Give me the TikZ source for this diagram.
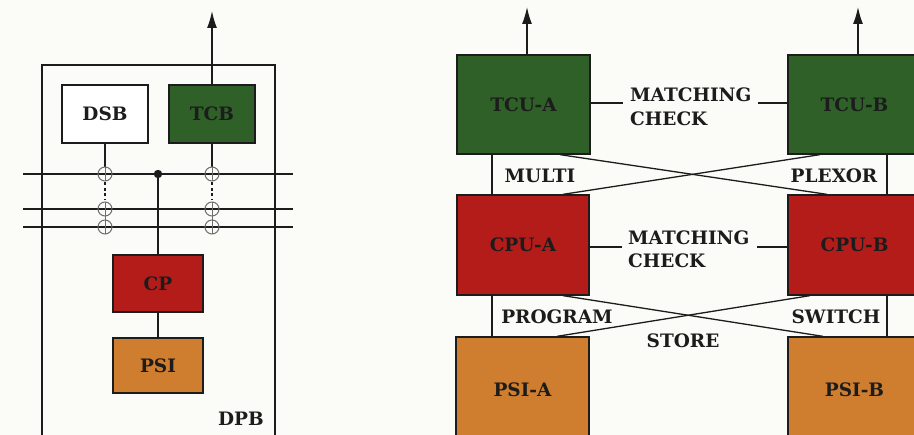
\documentclass[tikz,border=0pt]{standalone}
\usepackage{fontspec}
\setmainfont{DejaVu Serif}
\usetikzlibrary{arrows.meta,calc}
\definecolor{tgreen}{RGB}{46,96,40}
\definecolor{cred}{RGB}{180,28,26}
\definecolor{porange}{RGB}{206,126,46}
\definecolor{ink}{RGB}{28,28,28}
\definecolor{ringc}{RGB}{110,110,110}
\definecolor{bg}{RGB}{251,251,247}
\begin{document}
\begin{tikzpicture}[x=1pt,y=-1pt,
  lbl/.style={font=\fontsize{18.5}{20}\selectfont\bfseries, text=ink, inner sep=0pt},
  box/.style={draw=ink, line width=1.3pt, inner sep=0pt, lbl},
  wire/.style={draw=ink, line width=1.3pt},
  frame/.style={draw=ink, line width=1.1pt},
  bus/.style={draw=ink, line width=1.4pt},
  ring/.style={draw=ringc, line width=1pt},
  arr/.style={draw=ink, line width=1.4pt, -{Latex[length=17pt,width=10pt]}}]
\useasboundingbox (0,0) rectangle (914,435);
\fill[bg] (0,0) rectangle (914,435);
\clip (0,0) rectangle (914,435);

% ---------- left panel ----------
\draw[frame] (42,440) -- (42,65) -- (275,65) -- (275,440);
\node[lbl, anchor=base] (dpb) at (241,426) {DPB};

\node[box, fill=white, minimum width=86pt, minimum height=58pt] (dsb) at (105,114) {DSB};
\node[box, fill=tgreen, minimum width=86pt, minimum height=58pt] (tcb) at (212,114) {TCB};
\node[box, fill=cred, minimum width=90pt, minimum height=57pt] (cp) at (158,283.5) {CP};
\node[box, fill=porange, minimum width=90pt, minimum height=55pt] (psi) at (158,365.5) {PSI};

\coordinate (tcbtip) at (212,11);
\draw[arr] (tcb.north) -- (tcbtip);

% buses
\coordinate (b1w) at (23,174);  \coordinate (b1e) at (293,174);
\coordinate (b2w) at (23,209);  \coordinate (b2e) at (293,209);
\coordinate (b3w) at (23,227);  \coordinate (b3e) at (293,227);
\draw[bus] (b1w) -- (b1e);
\draw[bus] (b2w) -- (b2e);
\draw[bus] (b3w) -- (b3e);

% taps of DSB and TCB
\foreach \n in {dsb,tcb}{
  \draw[wire] (\n.south) -- ($(\n.south |- b1w)+(0,-7)$);
  \draw[ring] ($(\n.south |- b1w)+(0,-7)$) -- ($(\n.south |- b1w)+(0,7)$);
  \draw[draw=ink, line width=1.6pt, dash pattern=on 3pt off 2.5pt] ($(\n.south |- b1w)+(0,8.5)$) -- ($(\n.south |- b2w)+(0,-8.5)$);
  \draw[ring] ($(\n.south |- b2w)+(0,-7)$) -- ($(\n.south |- b3w)+(0,7)$);
  \draw[ring] (\n.south |- b1w) circle (7pt);
  \draw[ring] (\n.south |- b2w) circle (7pt);
  \draw[ring] (\n.south |- b3w) circle (7pt);
}
\coordinate (dot) at (158,174);
\fill[ink] (dot) circle (4.2pt);
\draw[wire] (dot) -- (cp.north);
\draw[wire] (cp.south) -- (psi.north);

% ---------- right panel ----------
\coordinate (vl) at (492,0);
\coordinate (vr) at (887,0);
\coordinate (xa) at (560,0); \coordinate (xb) at (827,0);
\coordinate (xc) at (820,0); \coordinate (xd) at (563,0);
\coordinate (ya) at (563,0); \coordinate (yb) at (823,0);
\coordinate (yc) at (810,0); \coordinate (yd) at (557,0);

\node[box, fill=tgreen, minimum width=133pt, minimum height=99pt] (tcua) at (523.5,104.5) {TCU-A};
\node[box, fill=tgreen, minimum width=133pt, minimum height=99pt] (tcub) at (854.5,104.5) {TCU-B};
\node[box, fill=cred, minimum width=132pt, minimum height=100pt] (cpua) at (523,245) {CPU-A};
\node[box, fill=cred, minimum width=133pt, minimum height=100pt] (cpub) at (854.5,245) {CPU-B};
\node[box, fill=porange, minimum width=133pt, minimum height=106pt] (psia) at (522.5,390) {PSI-A};
\node[box, fill=porange, minimum width=133pt, minimum height=106pt] (psib) at (854.5,390) {PSI-B};

\coordinate (tatip) at (527,7);
\coordinate (tbtip) at (858,7);
\draw[arr] (tatip |- tcua.north) -- (tatip);
\draw[arr] (tbtip |- tcub.north) -- (tbtip);

% multiplexor
\draw[wire] (vl |- tcua.south) -- (vl |- cpua.north);
\draw[wire] (vr |- tcub.south) -- (vr |- cpub.north);
\draw[wire] (xa |- tcua.south) -- (xb |- cpub.north);
\draw[wire] (xc |- tcub.south) -- (xd |- cpua.north);
\node[lbl, anchor=base] (multi) at (540,183) {MULTI};
\node[lbl, anchor=base] (plexor) at (834,183) {PLEXOR};

% program store switch
\draw[wire] (vl |- cpua.south) -- (vl |- psia.north);
\draw[wire] (vr |- cpub.south) -- (vr |- psib.north);
\draw[wire] (ya |- cpua.south) -- (yb |- psib.north);
\draw[wire] (yc |- cpub.south) -- (yd |- psia.north);
\node[lbl, anchor=base] (program) at (557,324) {PROGRAM};
\node[lbl, anchor=base] (switch) at (836,324) {SWITCH};
\node[lbl, anchor=base] (store) at (683,348) {STORE};

% matching checks
\coordinate (m1l) at (623,103); \coordinate (m1r) at (758,103);
\draw[wire] (tcua.east |- m1l) -- (m1l);
\draw[wire] (m1r) -- (tcub.west |- m1r);
\node[lbl, anchor=base west] (mc1a) at (630,102) {MATCHING};
\node[lbl, anchor=base west] (mc1b) at (630,126) {CHECK};

\coordinate (m2l) at (622,247); \coordinate (m2r) at (757,247);
\draw[wire] (cpua.east |- m2l) -- (m2l);
\draw[wire] (m2r) -- (cpub.west |- m2r);
\node[lbl, anchor=base west] (mc2a) at (628,245) {MATCHING};
\node[lbl, anchor=base west] (mc2b) at (628,268) {CHECK};
\end{tikzpicture}
\end{document}
